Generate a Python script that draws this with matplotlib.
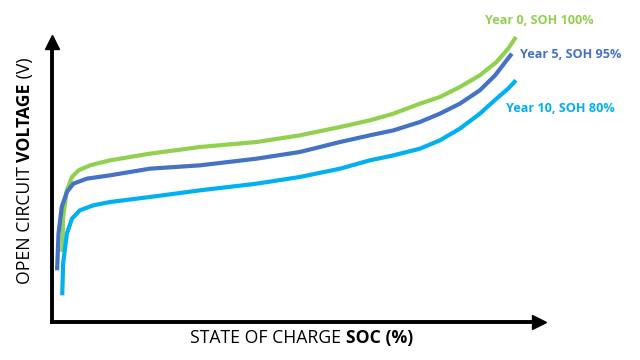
import matplotlib.pyplot as plt

# SOC (%) and open circuit voltage (V, arbitrary scale)
soc_year0 = [2.2, 2.4, 3.2, 4.3, 5.7, 8.2, 12.5, 21.1, 31.9, 44.1, 53.4, 62.1,
             68.5, 73.6, 79.3, 83.6, 87.9, 92.2, 95.8, 98.3, 100.0]
ocv_year0 = [2.92, 3.13, 3.29, 3.37, 3.41, 3.44, 3.47, 3.51, 3.55, 3.58, 3.62,
             3.67, 3.71, 3.75, 3.81, 3.85, 3.91, 3.98, 4.06, 4.14, 4.21]

soc_year5 = [1.1, 1.4, 2.1, 3.2, 4.6, 7.5, 12.5, 21.1, 31.9, 44.1, 53.4, 62.1,
             68.5, 73.6, 79.3, 83.6, 87.9, 92.2, 95.5, 97.7, 99.1]
ocv_year5 = [2.81, 3.03, 3.19, 3.28, 3.33, 3.36, 3.38, 3.42, 3.44, 3.48, 3.52,
             3.58, 3.62, 3.65, 3.70, 3.75, 3.81, 3.89, 3.98, 4.06, 4.11]

soc_year10 = [2.2, 2.4, 3.2, 4.3, 6.0, 8.9, 12.5, 21.1, 31.9, 44.1, 53.4, 62.1,
              68.5, 73.6, 79.3, 83.6, 87.9, 92.2, 95.8, 98.3, 100.0]
ocv_year10 = [2.66, 2.85, 3.03, 3.12, 3.17, 3.20, 3.22, 3.25, 3.29, 3.33, 3.37,
              3.42, 3.47, 3.50, 3.54, 3.59, 3.66, 3.75, 3.84, 3.90, 3.95]

labels = ["Year 0, SOH 100%", "Year 5, SOH 95%", "Year 10, SOH 80%"]
colors = ["#92D050", "#4472C4", "#00B0F0"]

W, H = 640, 360
fig = plt.figure(figsize=(6.4, 3.6), dpi=100)
ax = fig.add_axes([52 / W, 38 / H, (539 - 52) / W, (322 - 42) / H])
ax.set_xlim(0, (539 - 52) / 4.64)
ax.set_ylim(2.5, 2.5 + (322 - 42) * 0.006)

series = [(soc_year0, ocv_year0), (soc_year5, ocv_year5), (soc_year10, ocv_year10)]
for (x, y), c in zip(series, colors):
    ax.plot(x, y, color=c, lw=3.0, solid_capstyle="butt",
            solid_joinstyle="round", clip_on=False)

# axes with arrow heads
for s in ["top", "right"]:
    ax.spines[s].set_visible(False)
for s in ["left", "bottom"]:
    ax.spines[s].set_linewidth(2.8)
ax.set_xticks([])
ax.set_yticks([])
ax.plot(1, 0, ">", color="black", ms=10, transform=ax.transAxes, clip_on=False)
ax.plot(0, 1, "^", color="black", ms=10, transform=ax.transAxes, clip_on=False)

font = "Open Sans"
lab_pos = [(485, 21), (520, 55), (506, 109)]
for (px, py), t, c in zip(lab_pos, labels, colors):
    fig.text(px / W, 1 - py / H, t, color=c, fontsize=9.1, fontweight="bold",
             family=font, ha="left", va="center")

# x label: regular + bold part
fs = 12.7
t1 = fig.text(190 / W, 1 - 338 / H, "STATE OF CHARGE ", fontsize=fs,
              family=font, ha="left", va="center")
ax.annotate("SOC (%)", xy=(1, 0), xycoords=t1, fontsize=fs, family=font,
            fontweight="bold", ha="left", va="bottom")

# y label: regular + bold + regular, rotated
y1 = fig.text(25 / W, 1 - 284 / H, "OPEN CIRCUIT ", fontsize=fs, family=font,
              rotation=90, ha="center", va="bottom")
y2 = ax.annotate("VOLTAGE", xy=(0.5, 1), xycoords=y1, fontsize=fs, family=font,
                 fontweight="bold", rotation=90, ha="center", va="bottom")
ax.annotate(" (V)", xy=(0.5, 1), xycoords=y2, fontsize=fs, family=font,
            rotation=90, ha="center", va="bottom")

fig.savefig("out.png", dpi=100)
